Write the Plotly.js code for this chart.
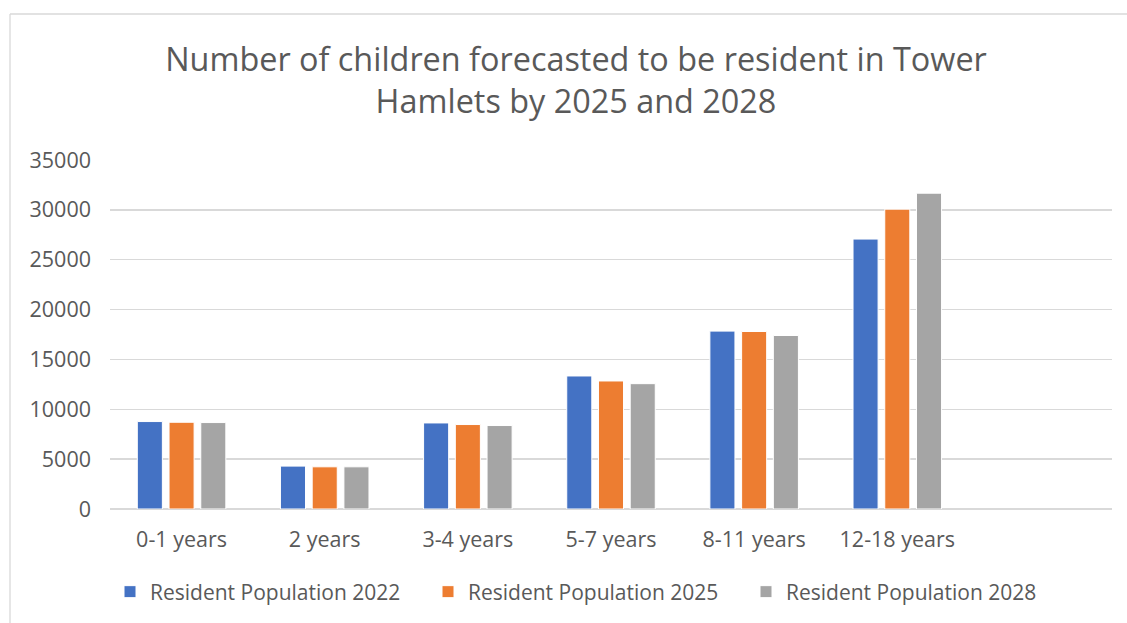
<!DOCTYPE html>
<html>
<head>
<meta charset="utf-8">
<script src="https://cdn.plot.ly/plotly-3.0.1.min.js"></script>
<style>
  html, body { margin: 0; padding: 0; background: #ffffff; }
  #chart { width: 1127px; height: 623px; }
</style>
</head>
<body>
<div id="chart"></div>
<script>
const categories = ["0-1 years", "2 years", "3-4 years", "5-7 years", "8-11 years", "12-18 years", " "];
const seriesNames = ["Resident Population 2022", "Resident Population 2025", "Resident Population 2028"];
const pop2022 = [8770, 4300, 8630, 13340, 17840, 27070, null];
const pop2025 = [8700, 4230, 8470, 12840, 17800, 30070, null];
const pop2028 = [8670, 4230, 8370, 12570, 17400, 31670, null];
const colors = ["#4472C4", "#ED7D31", "#A5A5A5"];
const tickVals = [0, 5000, 10000, 15000, 20000, 25000, 30000, 35000];
const tickText = ["0", "5000", "10000", "15000", "20000", "25000", "30000", "35000"];

const allSeries = [pop2022, pop2025, pop2028];
const traces = allSeries.map((vals, i) => ({
  type: "bar",
  name: seriesNames[i],
  x: categories,
  y: vals,
  marker: { color: colors[i], line: { color: "#ffffff", width: 1 } },
  hoverinfo: "x+y+name"
}));

const textColor = "#595959";
const font = "'Open Sans', 'Noto Sans', sans-serif";

// plot area geometry in pixels
const L = 110, R = 1112, T = 160, B = 509;
const W = 1127, H = 623;
const px2x = p => (p - L) / (R - L);
const py2y = p => (B - p) / (B - T);

const layout = {
  width: W, height: H,
  margin: { l: L, r: W - R, t: T, b: H - B, pad: 0, autoexpand: false },
  paper_bgcolor: "#ffffff",
  plot_bgcolor: "#ffffff",
  font: { family: font, color: textColor, size: 18 },
  title: {
    text: "Number of children forecasted to be resident in Tower<br>Hamlets by 2025 and 2028",
    font: { family: font, size: 32.4, color: textColor },
    x: 576 / W, xref: "container", xanchor: "center",
    y: 1 - 71 / H, yref: "container", yanchor: "top",
    automargin: false
  },
  barmode: "group",
  bargap: 0.335,
  bargroupgap: 0.21,
  xaxis: {
    type: "category",
    categoryorder: "array",
    categoryarray: categories,
    range: [-0.5, 6.5],
    showgrid: false,
    showline: false,
    zeroline: false,
    ticks: "",
    tickangle: 0,
    automargin: false,
    tickfont: { family: font, size: 21.5, color: textColor },
    ticklabelstandoff: 15,
    fixedrange: true
  },
  yaxis: {
    range: [0, 35000],
    tickmode: "array",
    tickvals: tickVals,
    ticktext: tickText,
    showgrid: true,
    gridcolor: "#D9D9D9",
    gridwidth: 1.3,
    zeroline: true,
    zerolinecolor: "#D9D9D9",
    zerolinewidth: 1.3,
    showline: false,
    ticks: "",
    automargin: false,
    tickfont: { family: font, size: 21.5, color: textColor },
    ticklabelstandoff: 18,
    fixedrange: true
  },
  legend: {
    orientation: "h",
    x: px2x(110), xref: "paper", xanchor: "left",
    y: py2y(592), yref: "paper", yanchor: "middle",
    font: { family: font, size: 21, color: textColor },
    itemwidth: 30,
    entrywidth: 273,
    entrywidthmode: "pixels",
    traceorder: "normal",
    itemclick: false
  },
  showlegend: true,
  shapes: [
    { type: "line", xref: "paper", yref: "paper", x0: px2x(10), x1: px2x(1135), y0: py2y(14), y1: py2y(14), line: { color: "#D9D9D9", width: 1.3 } },
    { type: "line", xref: "paper", yref: "paper", x0: px2x(10), x1: px2x(10), y0: py2y(14), y1: py2y(640), line: { color: "#D9D9D9", width: 1.3 } }
  ]
};

Plotly.newPlot("chart", traces, layout, { displayModeBar: false, staticPlot: true });
</script>
</body>
</html>
